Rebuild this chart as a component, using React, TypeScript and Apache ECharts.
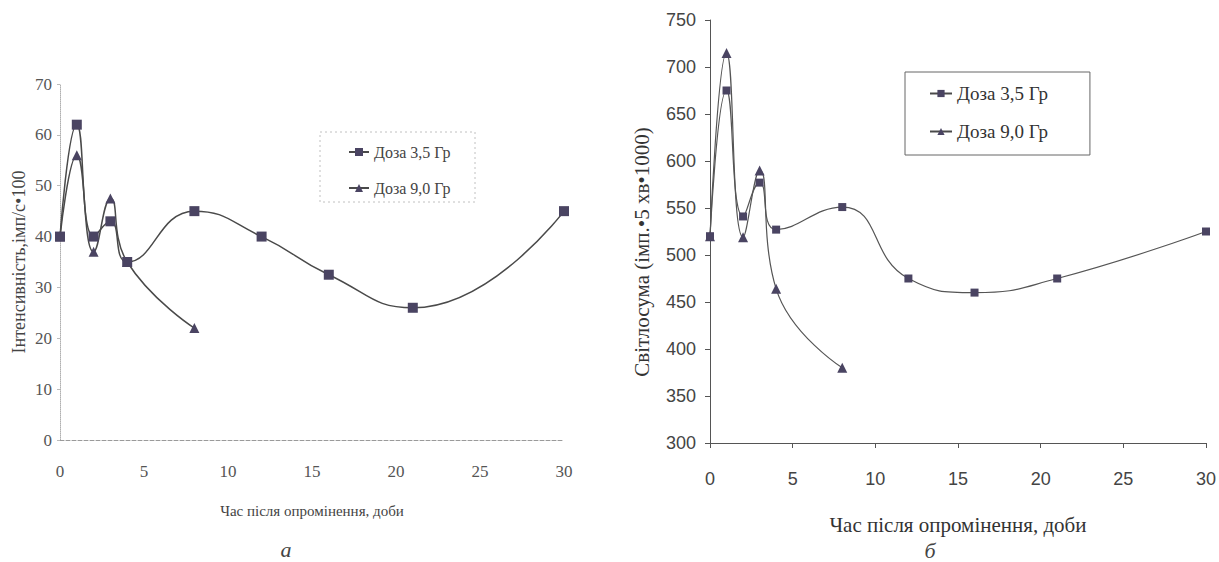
import React, { useEffect, useRef } from 'react';
import * as echarts from 'echarts';

// ---- Data (panel а: intensity) ----
const daysA35 = [0, 1, 2, 3, 4, 8, 12, 16, 21, 30];
const intensityA35 = [40, 62, 40, 43, 35, 45, 40, 32.5, 26, 45];
const daysA90 = [0, 1, 2, 3, 4, 8];
const intensityA90 = [40, 56, 37, 47.5, 35, 22];

// ---- Data (panel б: light sum) ----
const daysB35 = [0, 1, 2, 3, 4, 8, 12, 16, 21, 30];
const lightSumB35 = [520, 675, 541, 577, 527, 551, 475, 460, 475, 525];
const daysB90 = [0, 1, 2, 3, 4, 8];
const lightSumB90 = [520, 715, 519, 590, 464, 380];

const seriesNames = ['Доза 3,5 Гр', 'Доза 9,0 Гр'];
const xTitle = 'Час після опромінення, доби';
const yTitleA = 'Інтенсивність,імп/с•100';
const yTitleB = 'Світлосума (імп.•5 хв•1000)';
const captions = ['а', 'б'];

const zip = (xs: number[], ys: number[]) => xs.map((x, i) => [x, ys[i]]);

const markerColor = '#4a4462';
const serif = 'Liberation Serif';
const sans = 'Liberation Sans';

export default function App() {
  const ref = useRef<HTMLDivElement>(null);
  useEffect(() => {
    const chart = echarts.init(ref.current!, null, { renderer: 'svg' });
    const option: any = {
      animation: false,
      backgroundColor: '#ffffff',
      grid: [
        { left: 60, top: 84, width: 504, height: 356 },
        { left: 710, top: 20, width: 498, height: 423 },
      ],
      xAxis: [
        {
          gridIndex: 0, type: 'value', min: 0, max: 30, interval: 5,
          axisLine: { show: true, lineStyle: { color: '#9a9a9a', type: 'dashed', width: 1 } },
          axisTick: { show: false },
          splitLine: { show: false },
          axisLabel: { margin: 23, fontFamily: serif, fontSize: 17, color: '#555' },
          name: xTitle, nameLocation: 'middle', nameGap: 63,
          nameTextStyle: { fontFamily: serif, fontSize: 15, color: '#444' },
        },
        {
          gridIndex: 1, type: 'value', min: 0, max: 30, interval: 5,
          axisLine: { show: true, lineStyle: { color: '#555', width: 1 } },
          axisTick: { show: true, length: 5, lineStyle: { color: '#555' } },
          splitLine: { show: false },
          axisLabel: { margin: 27, fontFamily: sans, fontSize: 18, color: '#444' },
          name: xTitle, nameLocation: 'middle', nameGap: 71,
          nameTextStyle: { fontFamily: serif, fontSize: 21, color: '#333' },
        },
      ],
      yAxis: [
        {
          gridIndex: 0, type: 'value', min: 0, max: 70, interval: 10,
          axisLine: { show: true, lineStyle: { color: '#b0b0b0', type: 'dotted', width: 1 } },
          axisTick: { show: true, length: 3, lineStyle: { color: '#bbb' } },
          splitLine: { show: false },
          axisLabel: { margin: 8, fontFamily: serif, fontSize: 17, color: '#555' },
          name: yTitleA, nameLocation: 'middle', nameGap: 32, nameRotate: 90,
          nameTextStyle: { fontFamily: serif, fontSize: 18, color: '#444' },
        },
        {
          gridIndex: 1, type: 'value', min: 300, max: 750, interval: 50,
          axisLine: { show: true, lineStyle: { color: '#555', width: 1 } },
          axisTick: { show: true, length: 5, lineStyle: { color: '#555' } },
          splitLine: { show: false },
          axisLabel: { margin: 14, fontFamily: sans, fontSize: 18, color: '#444' },
        },
      ],
      legend: [
        {
          data: seriesNames, orient: 'vertical', left: 320, top: 132,
          padding: [12, 22, 6, 28], itemGap: 20, itemWidth: 20, itemHeight: 10,
          textStyle: { fontFamily: serif, fontSize: 16, color: '#444' },
        },
        {
          data: seriesNames, orient: 'vertical', left: 905, top: 72,
          padding: [12, 42, 14, 24], itemGap: 19, itemWidth: 22, itemHeight: 9,
          borderColor: '#666', borderWidth: 1,
          textStyle: { fontFamily: serif, fontSize: 19, color: '#333' },
        },
      ],
      graphic: [
        {
          type: 'rect', shape: { x: 320, y: 132, width: 155, height: 70 },
          style: { fill: 'none', stroke: '#c0c0c0', lineWidth: 1, lineDash: [2, 3] },
        },
        {
          type: 'text', x: 642, y: 252, rotation: Math.PI / 2,
          style: { text: yTitleB, fontFamily: serif, fontSize: 21, fill: '#333', align: 'center', verticalAlign: 'middle' },
        },
        {
          type: 'text', x: 286, y: 549,
          style: { text: captions[0], fontFamily: serif, fontSize: 22, fontStyle: 'italic', fill: '#444', align: 'center', verticalAlign: 'middle' },
        },
        {
          type: 'text', x: 930, y: 550,
          style: { text: captions[1], fontFamily: serif, fontSize: 22, fontStyle: 'italic', fill: '#444', align: 'center', verticalAlign: 'middle' },
        },
      ],
      series: [
        {
          name: seriesNames[1], type: 'line', xAxisIndex: 0, yAxisIndex: 0,
          data: zip(daysA90, intensityA90), smooth: 0.5,
          symbol: 'triangle', symbolSize: 10, z: 2,
          itemStyle: { color: markerColor }, lineStyle: { color: '#4a4a4a', width: 1.5 },
        },
        {
          name: seriesNames[0], type: 'line', xAxisIndex: 0, yAxisIndex: 0,
          data: zip(daysA35, intensityA35), smooth: 0.5,
          symbol: 'rect', symbolSize: 10, z: 3,
          itemStyle: { color: markerColor }, lineStyle: { color: '#4a4a4a', width: 1.5 },
        },
        {
          name: seriesNames[1], type: 'line', xAxisIndex: 1, yAxisIndex: 1,
          data: zip(daysB90, lightSumB90), smooth: 0.5,
          symbol: 'triangle', symbolSize: 10, z: 2,
          itemStyle: { color: markerColor }, lineStyle: { color: '#555', width: 1.2 },
        },
        {
          name: seriesNames[0], type: 'line', xAxisIndex: 1, yAxisIndex: 1,
          data: zip(daysB35, lightSumB35), smooth: 0.5,
          symbol: 'rect', symbolSize: 8, z: 3,
          itemStyle: { color: markerColor }, lineStyle: { color: '#555', width: 1.2 },
        },
      ],
    };
    chart.setOption(option);
    return () => chart.dispose();
  }, []);
  return (
    <div
      ref={ref}
      style={{ position: 'absolute', left: 0, top: 0, width: 1219, height: 562, background: '#fff' }}
    />
  );
}
